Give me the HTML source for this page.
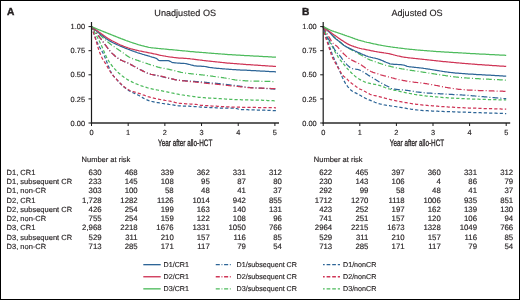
<!DOCTYPE html>
<html><head><meta charset="utf-8"><style>
html,body{margin:0;padding:0;background:#fff;}
svg{display:block;will-change:transform;}
text{font-family:"Liberation Sans",sans-serif;fill:#231f20;text-rendering:geometricPrecision;stroke:#231f20;stroke-width:0.15px;}
.pl{font-size:10.2px;font-weight:bold;stroke:#231f20;stroke-width:0.4px;}
.tt{font-size:9.1px;}
.tk{font-size:7.4px;}
.xl{font-size:9.3px;stroke:#231f20;stroke-width:0.3px;}
.tb{font-size:7.5px;}
.tn{font-size:7.8px;}
.lg{font-size:7.15px;}
</style></head><body>
<svg width="520" height="300" viewBox="0 0 520 300">
<rect x="0.5" y="0.5" width="519" height="299" fill="#fff" stroke="#000" stroke-width="1"/>
<text x="7.0" y="15" class="pl">A</text>
<text x="302.0" y="15" class="pl">B</text>
<text x="185.2" y="16" text-anchor="middle" class="tt">Unadjusted OS</text>
<text x="417" y="16" text-anchor="middle" class="tt">Adjusted OS</text>
<path d="M91.5,26.6 L92.4,29.2 L93.3,32.0 L94.3,34.7 L95.2,37.3 L96.1,39.8 L97.0,42.0 L98.0,44.1 L99.0,46.0 L100.0,47.8 L101.0,49.5 L102.0,51.2 L103.0,53.0 L104.0,55.0 L105.0,57.4 L106.0,59.9 L107.0,62.6 L108.0,65.1 L109.2,67.9 L110.3,70.8 L111.5,73.1 L112.6,74.7 L113.6,76.1 L114.7,77.3 L115.7,78.5 L116.8,79.6 L117.8,80.8 L118.9,81.9 L119.9,83.0 L120.9,84.0 L121.9,85.1 L122.9,86.1 L124.0,87.0 L125.0,87.8 L126.0,88.6 L127.0,89.3 L128.0,90.0 L129.0,90.6 L130.0,91.2 L131.0,91.7 L132.0,92.2 L133.0,92.7 L134.0,93.2 L135.0,93.6 L136.0,94.1 L136.9,94.5 L137.9,95.0 L138.9,95.5 L139.9,96.0 L140.9,96.6 L142.0,97.2 L143.0,97.9 L144.0,98.5 L145.1,99.0 L146.0,99.5 L147.0,99.9 L148.0,100.3 L149.0,100.7 L150.0,101.0 L150.9,101.3 L151.8,101.5 L152.8,101.7 L153.7,101.9 L154.6,102.1 L155.5,102.3 L156.4,102.4 L157.3,102.6 L158.3,102.7 L159.2,102.9 L160.1,103.0 L161.1,103.2 L162.1,103.4 L163.1,103.5 L164.1,103.7 L165.0,103.8 L166.0,103.9 L167.0,104.1 L168.0,104.2 L169.0,104.4 L170.0,104.5 L171.0,104.6 L172.0,104.8 L173.0,104.9 L174.0,105.1 L174.9,105.3 L175.9,105.4 L176.9,105.5 L177.9,105.7 L178.9,105.8 L179.9,105.8 L180.8,105.9 L181.8,106.0 L182.7,106.0 L183.7,106.0 L184.6,106.1 L185.5,106.1 L186.5,106.2 L187.4,106.2 L188.4,106.2 L189.3,106.2 L190.2,106.3 L191.2,106.3 L192.1,106.4 L193.1,106.4 L194.0,106.5 L194.9,106.5 L195.9,106.6 L196.8,106.7 L197.8,106.8 L198.8,106.9 L199.7,107.0 L200.6,107.1 L201.6,107.1 L202.5,107.2 L203.4,107.2 L204.4,107.2 L205.3,107.3 L206.2,107.3 L207.2,107.4 L208.1,107.4 L209.0,107.4 L210.0,107.5 L211.0,107.5 L212.0,107.6 L212.9,107.6 L213.9,107.7 L214.9,107.7 L215.9,107.8 L216.9,107.9 L217.9,107.9 L218.9,107.9 L219.9,108.0 L220.8,108.0 L221.7,108.0 L222.7,108.0 L223.6,108.0 L224.5,108.0 L225.5,108.0 L226.4,108.1 L227.3,108.1 L228.3,108.1 L229.2,108.1 L230.1,108.1 L231.1,108.1 L232.0,108.2 L233.0,108.2 L234.0,108.3 L235.0,108.4 L236.0,108.5 L237.0,108.7 L238.0,109.0 L239.0,109.3 L240.1,109.4 L241.0,109.5 L241.9,109.5 L242.9,109.6 L243.8,109.6 L244.8,109.6 L245.7,109.7 L246.7,109.7 L247.6,109.7 L248.6,109.8 L249.5,109.8 L250.5,109.8 L251.4,109.8 L252.4,109.8 L253.3,109.9 L254.2,109.9 L255.2,109.9 L256.1,109.9 L257.1,110.0 L258.0,110.0 L259.0,110.0 L259.9,110.1 L260.9,110.1 L261.8,110.1 L262.8,110.2 L263.7,110.2 L264.6,110.2 L265.6,110.3 L266.5,110.3 L267.5,110.3 L268.4,110.4 L269.4,110.4 L270.3,110.4 L271.3,110.5 L272.2,110.5 L273.2,110.6 L274.1,110.6 L275.1,110.6 L276.0,110.7" fill="none" stroke="#2d6597" stroke-width="1.25" stroke-dasharray="3.2 2.1"/>
<path d="M91.5,26.6 L92.6,29.9 L93.7,33.3 L94.8,36.6 L95.9,40.1 L96.9,43.5 L97.9,47.0 L98.8,50.1 L99.9,53.1 L101.0,55.7 L102.1,58.0 L103.2,60.0 L104.3,61.7 L105.4,63.3 L106.5,65.1 L107.6,67.1 L108.7,69.2 L109.8,71.0 L110.8,72.5 L111.8,73.8 L112.8,75.1 L113.8,76.3 L114.8,77.4 L115.8,78.5 L116.8,79.6 L117.8,80.7 L118.9,81.8 L119.9,82.9 L120.9,83.9 L121.9,84.9 L122.9,85.9 L124.0,86.7 L125.0,87.5 L126.0,88.2 L127.0,88.9 L128.0,89.5 L129.0,90.0 L130.0,90.5 L131.0,90.9 L132.0,91.3 L133.0,91.6 L134.0,91.9 L135.0,92.2 L136.0,92.5 L136.9,92.8 L137.9,93.1 L138.9,93.4 L139.9,93.7 L140.9,94.0 L141.9,94.4 L142.9,94.8 L144.0,95.1 L145.0,95.5 L146.0,95.9 L147.0,96.2 L148.0,96.6 L149.0,96.9 L150.0,97.2 L150.9,97.4 L151.8,97.7 L152.8,97.9 L153.7,98.1 L154.6,98.3 L155.5,98.5 L156.4,98.7 L157.3,98.9 L158.3,99.1 L159.2,99.3 L160.1,99.5 L161.1,99.7 L162.1,99.8 L163.1,100.0 L164.1,100.2 L165.0,100.4 L166.0,100.5 L167.0,100.7 L168.0,100.9 L169.0,101.0 L170.0,101.2 L171.0,101.4 L172.0,101.6 L173.0,101.9 L174.0,102.1 L174.9,102.4 L175.9,102.6 L176.9,102.8 L177.9,103.0 L178.9,103.2 L179.9,103.3 L180.9,103.4 L181.9,103.5 L182.9,103.6 L183.9,103.7 L184.9,103.7 L185.8,103.8 L186.8,103.8 L187.8,103.9 L188.8,103.9 L189.8,104.0 L190.8,104.1 L191.9,104.1 L192.9,104.2 L194.0,104.2 L195.0,104.3 L196.0,104.4 L197.0,104.5 L197.9,104.8 L198.8,105.0 L199.7,105.2 L200.6,105.3 L201.6,105.3 L202.5,105.4 L203.4,105.5 L204.4,105.5 L205.3,105.6 L206.2,105.6 L207.2,105.7 L208.1,105.7 L209.0,105.8 L210.0,105.8 L210.9,105.9 L211.9,106.0 L212.8,106.0 L213.8,106.1 L214.7,106.1 L215.7,106.2 L216.6,106.2 L217.5,106.3 L218.5,106.3 L219.4,106.4 L220.4,106.4 L221.3,106.5 L222.3,106.5 L223.2,106.6 L224.2,106.6 L225.1,106.7 L226.1,106.7 L227.0,106.8 L227.9,106.8 L228.9,106.8 L229.9,106.9 L230.9,106.9 L231.9,107.0 L232.9,107.0 L233.9,107.1 L234.9,107.1 L235.9,107.1 L236.9,107.2 L237.9,107.2 L238.8,107.2 L239.8,107.2 L240.7,107.2 L241.7,107.3 L242.7,107.3 L243.6,107.3 L244.6,107.3 L245.5,107.3 L246.5,107.3 L247.5,107.3 L248.4,107.4 L249.4,107.4 L250.3,107.4 L251.3,107.4 L252.3,107.4 L253.2,107.4 L254.2,107.4 L255.1,107.4 L256.1,107.5 L257.1,107.5 L258.0,107.5 L259.0,107.5 L259.9,107.5 L260.9,107.5 L261.8,107.5 L262.8,107.6 L263.7,107.6 L264.6,107.6 L265.6,107.6 L266.5,107.6 L267.5,107.6 L268.4,107.6 L269.4,107.7 L270.3,107.7 L271.3,107.7 L272.2,107.7 L273.2,107.7 L274.1,107.7 L275.1,107.8 L276.0,107.8" fill="none" stroke="#cf3556" stroke-width="1.25" stroke-dasharray="3.2 2.1"/>
<path d="M91.5,26.6 L92.4,28.3 L93.3,29.9 L94.3,31.6 L95.2,33.2 L96.1,34.9 L97.0,36.6 L97.9,38.3 L98.8,40.1 L99.9,42.3 L101.0,44.6 L102.1,47.0 L103.1,49.2 L104.0,51.6 L105.0,53.9 L106.0,56.1 L106.9,58.0 L107.9,59.8 L109.0,61.5 L110.0,63.0 L111.1,64.5 L112.1,65.8 L113.1,67.1 L114.1,68.2 L115.1,69.3 L116.1,70.4 L117.1,71.4 L118.0,72.3 L119.0,73.2 L120.0,74.0 L121.0,74.9 L122.0,75.7 L123.0,76.4 L124.0,77.2 L125.0,77.9 L126.0,78.6 L127.0,79.3 L128.0,79.9 L129.0,80.4 L130.0,81.0 L131.0,81.4 L131.9,81.9 L132.9,82.4 L133.8,82.8 L134.8,83.2 L135.7,83.6 L136.7,84.0 L137.6,84.4 L138.6,84.8 L139.5,85.2 L140.5,85.5 L141.4,85.9 L142.4,86.2 L143.3,86.5 L144.3,86.8 L145.2,87.1 L146.2,87.4 L147.1,87.7 L148.1,88.0 L149.1,88.2 L150.0,88.5 L150.9,88.7 L151.8,88.9 L152.8,89.1 L153.7,89.3 L154.6,89.5 L155.5,89.7 L156.4,89.8 L157.3,90.0 L158.3,90.2 L159.2,90.3 L160.1,90.5 L161.1,90.7 L162.1,90.9 L163.1,91.1 L164.1,91.3 L165.0,91.5 L166.0,91.7 L167.0,91.9 L168.0,92.1 L169.0,92.3 L170.0,92.5 L171.0,92.7 L172.0,93.0 L173.0,93.2 L174.0,93.4 L174.9,93.6 L175.9,93.8 L176.9,94.0 L177.9,94.2 L178.9,94.4 L179.9,94.6 L180.9,94.7 L181.9,94.9 L182.9,95.0 L183.9,95.2 L184.9,95.3 L185.8,95.5 L186.8,95.6 L187.8,95.7 L188.8,95.9 L189.8,96.0 L190.8,96.2 L191.8,96.3 L192.8,96.4 L193.8,96.6 L194.8,96.7 L195.7,96.9 L196.7,97.0 L197.7,97.1 L198.7,97.3 L199.7,97.4 L200.6,97.4 L201.5,97.5 L202.5,97.6 L203.4,97.6 L204.3,97.7 L205.2,97.8 L206.1,97.8 L207.0,97.9 L208.0,97.9 L208.9,98.0 L209.8,98.0 L210.7,98.1 L211.6,98.1 L212.5,98.2 L213.5,98.2 L214.4,98.3 L215.3,98.3 L216.2,98.4 L217.1,98.5 L218.0,98.5 L219.0,98.6 L220.0,98.6 L221.0,98.7 L222.0,98.8 L223.0,98.9 L224.0,98.9 L225.0,99.0 L226.0,99.1 L227.0,99.1 L227.9,99.2 L228.9,99.2 L229.9,99.3 L230.9,99.4 L231.9,99.4 L232.9,99.5 L233.9,99.5 L234.9,99.6 L235.9,99.6 L236.9,99.6 L237.9,99.7 L238.8,99.7 L239.7,99.7 L240.6,99.7 L241.5,99.8 L242.4,99.8 L243.4,99.8 L244.3,99.8 L245.2,99.8 L246.1,99.9 L247.0,99.9 L247.9,99.9 L248.9,99.9 L249.8,99.9 L250.7,99.9 L251.6,100.0 L252.5,100.0 L253.4,100.0 L254.4,100.0 L255.3,100.0 L256.2,100.1 L257.1,100.1 L258.1,100.1 L259.0,100.1 L260.0,100.2 L260.9,100.2 L261.9,100.2 L262.8,100.3 L263.7,100.3 L264.7,100.4 L265.6,100.4 L266.6,100.4 L267.5,100.5 L268.5,100.5 L269.4,100.6 L270.3,100.6 L271.3,100.6 L272.2,100.7 L273.2,100.7 L274.1,100.8 L275.1,100.8 L276.0,100.8" fill="none" stroke="#4dbb5c" stroke-width="1.25" stroke-dasharray="3.2 2.1"/>
<path d="M91.5,26.6 L92.4,27.8 L93.3,29.0 L94.3,30.2 L95.2,31.4 L96.1,32.6 L97.0,33.8 L97.9,35.0 L98.8,36.2 L99.8,37.6 L100.9,38.9 L101.9,40.3 L102.9,41.7 L103.9,43.0 L104.9,44.4 L105.9,45.7 L106.9,47.0 L107.9,48.4 L108.9,49.7 L109.9,50.9 L110.9,52.0 L111.9,53.1 L113.0,54.1 L114.0,55.0 L115.0,56.0 L116.0,56.8 L117.0,57.6 L118.0,58.3 L119.0,59.0 L120.0,59.6 L121.0,60.1 L122.0,60.5 L123.0,61.0 L124.0,61.4 L125.0,61.8 L125.9,62.2 L126.9,62.6 L127.9,63.0 L128.9,63.5 L129.9,64.0 L130.9,64.6 L131.9,65.1 L132.9,65.7 L134.0,66.3 L135.0,66.8 L136.0,67.4 L137.0,68.0 L138.0,68.5 L139.0,69.0 L139.9,69.5 L140.8,69.9 L141.8,70.4 L142.7,70.9 L143.6,71.4 L144.5,71.8 L145.4,72.3 L146.3,72.7 L147.3,73.1 L148.2,73.4 L149.1,73.7 L150.0,74.0 L150.9,74.3 L151.8,74.5 L152.8,74.7 L153.7,74.9 L154.6,75.1 L155.5,75.2 L156.4,75.4 L157.3,75.6 L158.3,75.8 L159.2,75.9 L160.1,76.1 L161.1,76.4 L162.1,76.6 L163.1,76.9 L164.1,77.2 L165.0,77.4 L166.0,77.7 L167.0,78.0 L168.0,78.2 L169.0,78.4 L170.0,78.7 L171.0,78.9 L172.0,79.0 L173.0,79.2 L174.0,79.4 L174.9,79.6 L175.9,79.8 L176.9,79.9 L177.9,80.1 L178.9,80.2 L179.9,80.3 L180.9,80.4 L181.9,80.5 L182.9,80.6 L183.9,80.6 L184.9,80.7 L185.8,80.8 L186.8,80.9 L187.8,80.9 L188.8,81.0 L189.8,81.1 L190.8,81.1 L191.8,81.2 L192.8,81.3 L193.8,81.3 L194.8,81.4 L195.7,81.5 L196.7,81.5 L197.7,81.6 L198.7,81.7 L199.7,81.7 L200.6,81.8 L201.6,81.9 L202.5,82.0 L203.5,82.1 L204.4,82.2 L205.3,82.3 L206.3,82.4 L207.2,82.5 L208.1,82.6 L209.1,82.7 L210.1,82.8 L211.1,82.9 L212.1,83.0 L213.1,83.0 L214.1,83.1 L215.1,83.2 L216.1,83.3 L217.1,83.4 L218.0,83.5 L219.0,83.6 L220.0,83.7 L221.0,83.8 L222.0,83.9 L223.0,84.0 L224.0,84.1 L225.0,84.3 L226.0,84.4 L227.0,84.5 L227.9,84.6 L228.9,84.8 L229.9,84.9 L230.9,85.0 L231.9,85.1 L232.9,85.2 L233.9,85.4 L234.9,85.5 L235.9,85.6 L236.9,85.8 L237.9,85.9 L238.8,86.0 L239.7,86.1 L240.6,86.3 L241.6,86.4 L242.5,86.6 L243.4,86.7 L244.4,86.8 L245.3,87.0 L246.2,87.1 L247.2,87.2 L248.1,87.3 L249.0,87.4 L250.0,87.5 L250.9,87.6 L251.9,87.7 L252.8,87.7 L253.8,87.8 L254.7,87.9 L255.7,87.9 L256.6,88.0 L257.6,88.0 L258.5,88.1 L259.5,88.1 L260.4,88.2 L261.3,88.2 L262.3,88.3 L263.2,88.3 L264.2,88.4 L265.1,88.4 L266.1,88.5 L267.1,88.5 L268.1,88.6 L269.1,88.7 L270.1,88.7 L271.0,88.8 L272.0,88.8 L273.0,88.9 L274.0,89.0 L275.0,89.0 L276.0,89.1" fill="none" stroke="#2d6597" stroke-width="1.25" stroke-dasharray="5.8 2.1 1 2.1"/>
<path d="M91.5,26.6 L92.4,27.8 L93.3,29.0 L94.3,30.2 L95.2,31.4 L96.1,32.6 L97.0,33.8 L97.9,35.0 L98.8,36.2 L99.8,37.6 L100.9,38.9 L101.9,40.3 L102.9,41.7 L103.9,43.0 L104.9,44.4 L105.9,45.7 L106.9,47.0 L107.9,48.4 L108.9,49.7 L109.9,50.9 L110.9,52.0 L111.9,53.1 L113.0,54.1 L114.0,55.0 L115.0,56.0 L116.0,56.8 L117.0,57.6 L118.0,58.3 L119.0,59.0 L120.0,59.6 L121.0,60.1 L122.0,60.5 L123.0,61.0 L124.0,61.4 L125.0,61.8 L125.9,62.2 L126.9,62.6 L127.9,63.0 L128.9,63.5 L129.9,64.0 L130.9,64.6 L131.9,65.1 L132.9,65.7 L134.0,66.3 L135.0,66.8 L136.0,67.4 L137.0,68.0 L138.0,68.5 L139.0,69.0 L139.9,69.5 L140.8,70.0 L141.8,70.4 L142.7,70.9 L143.6,71.4 L144.5,71.8 L145.4,72.3 L146.3,72.7 L147.3,73.1 L148.2,73.4 L149.1,73.8 L150.0,74.0 L150.9,74.3 L151.8,74.5 L152.8,74.7 L153.7,74.8 L154.6,75.0 L155.5,75.1 L156.4,75.3 L157.3,75.4 L158.3,75.6 L159.2,75.8 L160.1,76.0 L161.1,76.2 L162.1,76.4 L163.1,76.7 L164.1,76.9 L165.0,77.2 L166.0,77.5 L167.0,77.7 L168.0,78.0 L169.0,78.2 L170.0,78.5 L171.0,78.7 L172.0,78.9 L173.0,79.1 L174.0,79.4 L174.9,79.6 L175.9,79.8 L176.9,80.0 L177.9,80.2 L178.9,80.3 L179.9,80.5 L180.9,80.6 L181.9,80.7 L182.9,80.8 L183.9,80.9 L184.9,81.0 L185.8,81.1 L186.8,81.2 L187.8,81.3 L188.8,81.4 L189.8,81.5 L190.8,81.6 L191.8,81.7 L192.8,81.8 L193.8,81.9 L194.8,82.0 L195.7,82.1 L196.7,82.2 L197.7,82.3 L198.7,82.4 L199.7,82.5 L200.6,82.6 L201.6,82.7 L202.5,82.8 L203.5,82.9 L204.4,83.1 L205.3,83.2 L206.3,83.3 L207.2,83.4 L208.1,83.5 L209.1,83.6 L210.1,83.7 L211.1,83.8 L212.1,83.9 L213.1,84.0 L214.1,84.1 L215.1,84.1 L216.1,84.2 L217.1,84.3 L218.0,84.4 L219.0,84.5 L220.0,84.6 L221.0,84.8 L222.0,84.9 L223.0,85.0 L224.0,85.1 L225.0,85.2 L226.0,85.3 L227.0,85.4 L227.9,85.5 L228.9,85.6 L229.9,85.7 L230.9,85.8 L231.9,85.9 L232.9,86.0 L233.9,86.1 L234.9,86.2 L235.9,86.3 L236.9,86.4 L237.9,86.5 L238.8,86.6 L239.7,86.7 L240.6,86.8 L241.6,86.9 L242.5,87.0 L243.4,87.1 L244.4,87.2 L245.3,87.3 L246.2,87.4 L247.2,87.5 L248.1,87.6 L249.0,87.7 L250.0,87.7 L250.9,87.8 L251.9,87.8 L252.8,87.9 L253.8,87.9 L254.7,87.9 L255.7,88.0 L256.6,88.0 L257.6,88.0 L258.5,88.1 L259.5,88.1 L260.4,88.1 L261.3,88.1 L262.3,88.2 L263.2,88.2 L264.2,88.2 L265.1,88.3 L266.1,88.3 L267.1,88.3 L268.1,88.4 L269.1,88.4 L270.1,88.4 L271.0,88.5 L272.0,88.5 L273.0,88.6 L274.0,88.6 L275.0,88.6 L276.0,88.7" fill="none" stroke="#cf3556" stroke-width="1.25" stroke-dasharray="5.8 2.1 1 2.1"/>
<path d="M91.5,26.6 L92.4,27.5 L93.3,28.4 L94.3,29.3 L95.2,30.3 L96.1,31.2 L97.0,32.1 L97.9,33.0 L98.8,33.8 L99.8,34.7 L100.7,35.6 L101.6,36.5 L102.6,37.4 L103.5,38.2 L104.4,39.1 L105.4,39.9 L106.3,40.7 L107.2,41.6 L108.2,42.3 L109.1,43.1 L110.0,43.8 L110.9,44.5 L111.9,45.2 L112.8,45.8 L113.7,46.5 L114.6,47.1 L115.5,47.7 L116.4,48.3 L117.4,49.0 L118.3,49.6 L119.2,50.2 L120.1,50.8 L121.0,51.4 L121.9,52.0 L123.0,52.8 L124.0,53.5 L125.0,54.3 L126.0,55.0 L127.0,55.7 L128.0,56.4 L129.0,57.0 L130.0,57.5 L131.0,58.0 L132.0,58.4 L133.0,58.8 L134.0,59.1 L135.0,59.5 L136.0,59.8 L136.9,60.1 L137.9,60.4 L138.9,60.8 L139.9,61.1 L140.9,61.4 L141.8,61.8 L142.7,62.1 L143.7,62.4 L144.6,62.7 L145.5,63.0 L146.5,63.4 L147.4,63.7 L148.3,64.0 L149.3,64.3 L150.2,64.6 L151.2,64.9 L152.2,65.2 L153.2,65.5 L154.1,65.9 L155.1,66.2 L156.1,66.5 L157.1,66.8 L158.1,67.1 L159.1,67.3 L160.1,67.6 L161.1,67.8 L162.1,68.0 L163.1,68.2 L164.1,68.4 L165.0,68.6 L166.0,68.8 L167.0,69.0 L168.0,69.2 L169.0,69.4 L170.0,69.6 L170.9,69.8 L171.9,70.0 L172.8,70.3 L173.7,70.5 L174.6,70.7 L175.6,71.0 L176.5,71.2 L177.4,71.5 L178.4,71.7 L179.3,71.9 L180.2,72.1 L181.1,72.4 L182.1,72.5 L183.0,72.7 L183.9,72.9 L184.9,73.0 L185.8,73.1 L186.8,73.3 L187.7,73.4 L188.7,73.5 L189.7,73.6 L190.6,73.7 L191.6,73.8 L192.5,73.9 L193.5,74.0 L194.4,74.1 L195.4,74.2 L196.3,74.3 L197.3,74.4 L198.2,74.5 L199.2,74.6 L200.1,74.7 L201.1,74.8 L202.1,74.9 L203.0,75.0 L203.9,75.1 L204.9,75.2 L205.8,75.3 L206.8,75.5 L207.7,75.6 L208.6,75.7 L209.6,75.8 L210.5,76.0 L211.5,76.1 L212.4,76.2 L213.3,76.4 L214.3,76.5 L215.2,76.6 L216.2,76.8 L217.1,76.9 L218.0,77.0 L219.0,77.2 L220.0,77.3 L221.0,77.4 L222.0,77.6 L223.0,77.7 L224.0,77.9 L225.0,78.0 L226.0,78.2 L227.0,78.3 L227.9,78.5 L228.9,78.6 L229.9,78.8 L230.9,79.0 L231.9,79.3 L232.9,79.5 L233.9,79.7 L234.9,79.9 L235.9,80.0 L236.9,80.2 L237.9,80.3 L238.8,80.4 L239.7,80.4 L240.6,80.5 L241.6,80.6 L242.5,80.6 L243.4,80.7 L244.4,80.7 L245.3,80.8 L246.2,80.8 L247.2,80.9 L248.1,80.9 L249.0,80.9 L250.0,81.0 L250.9,81.0 L251.8,81.0 L252.7,81.1 L253.7,81.1 L254.6,81.1 L255.5,81.1 L256.4,81.2 L257.3,81.2 L258.3,81.2 L259.2,81.2 L260.1,81.2 L261.0,81.3 L262.0,81.3 L262.9,81.3 L263.8,81.3 L264.7,81.3 L265.7,81.4 L266.6,81.4 L267.5,81.4 L268.4,81.4 L269.4,81.4 L270.3,81.4 L271.2,81.5 L272.1,81.5 L273.1,81.5 L274.0,81.5 L274.9,81.5" fill="none" stroke="#4dbb5c" stroke-width="1.25" stroke-dasharray="5.8 2.1 1 2.1"/>
<path d="M91.5,26.6 L92.4,27.4 L93.3,28.2 L94.3,29.0 L95.2,29.8 L96.1,30.6 L97.0,31.4 L97.9,32.1 L98.8,32.9 L99.8,33.6 L100.7,34.4 L101.6,35.1 L102.5,35.8 L103.5,36.6 L104.4,37.3 L105.3,38.0 L106.2,38.7 L107.1,39.3 L108.1,39.9 L109.0,40.5 L110.0,41.1 L111.0,41.6 L112.0,42.2 L113.0,42.7 L114.0,43.2 L115.0,43.7 L116.0,44.1 L117.0,44.6 L118.0,45.0 L119.0,45.5 L120.0,45.9 L120.9,46.3 L121.9,46.7 L122.8,47.1 L123.8,47.5 L124.7,47.9 L125.7,48.3 L126.6,48.6 L127.6,49.0 L128.5,49.4 L129.5,49.7 L130.4,50.1 L131.4,50.4 L132.3,50.8 L133.3,51.1 L134.2,51.5 L135.2,51.8 L136.1,52.1 L137.1,52.5 L138.0,52.8 L139.0,53.1 L139.9,53.4 L140.9,53.7 L141.8,54.0 L142.7,54.3 L143.7,54.5 L144.6,54.8 L145.5,55.1 L146.5,55.3 L147.4,55.6 L148.3,55.9 L149.3,56.2 L150.2,56.5 L151.2,56.8 L152.2,57.1 L153.2,57.3 L154.2,57.6 L155.2,58.0 L156.2,58.4 L157.2,58.9 L157.8,59.5 L158.4,60.2 L159.0,60.5 L160.0,60.6 L161.0,60.6 L162.0,60.6 L163.1,60.6 L164.1,60.6 L165.1,60.7 L166.1,60.7 L167.1,60.7 L168.2,60.7 L169.1,60.9 L170.1,61.3 L171.0,61.8 L172.0,62.3 L172.9,62.6 L173.9,62.7 L174.9,62.8 L175.9,62.9 L176.9,63.0 L177.9,63.1 L178.9,63.2 L179.9,63.2 L180.9,63.3 L181.9,63.3 L182.9,63.4 L183.9,63.4 L184.9,63.5 L185.9,63.7 L186.9,63.9 L187.8,64.1 L188.8,64.3 L189.8,64.5 L190.8,64.8 L191.9,65.1 L192.9,65.4 L193.9,65.7 L194.9,65.8 L196.0,65.9 L197.0,66.0 L198.0,66.0 L199.0,66.1 L200.1,66.1 L201.0,66.2 L202.0,66.3 L202.9,66.3 L203.9,66.4 L204.8,66.5 L205.9,66.7 L206.9,66.9 L207.9,67.1 L208.9,67.3 L210.0,67.5 L211.0,67.6 L212.0,67.7 L212.9,67.8 L213.9,68.0 L214.9,68.1 L215.9,68.2 L216.9,68.3 L217.9,68.4 L218.9,68.4 L219.9,68.5 L220.8,68.6 L221.7,68.7 L222.7,68.8 L223.6,68.9 L224.5,68.9 L225.5,69.0 L226.4,69.1 L227.3,69.2 L228.3,69.2 L229.2,69.3 L230.1,69.4 L231.1,69.4 L232.0,69.5 L232.9,69.6 L233.9,69.6 L234.9,69.7 L235.8,69.7 L236.8,69.8 L237.7,69.8 L238.7,69.9 L239.6,69.9 L240.6,70.0 L241.6,70.0 L242.5,70.0 L243.5,70.1 L244.4,70.1 L245.4,70.2 L246.4,70.2 L247.3,70.3 L248.3,70.3 L249.2,70.4 L250.1,70.4 L251.1,70.5 L252.0,70.5 L252.9,70.6 L253.8,70.6 L254.8,70.7 L255.7,70.7 L256.6,70.8 L257.5,70.8 L258.5,70.9 L259.4,70.9 L260.3,71.0 L261.2,71.0 L262.2,71.1 L263.1,71.1 L264.0,71.2 L264.9,71.2 L265.8,71.3 L266.8,71.3 L267.7,71.4 L268.6,71.4 L269.5,71.5 L270.5,71.5 L271.4,71.6 L272.3,71.6 L273.2,71.7 L274.2,71.7 L275.1,71.8 L276.0,71.8" fill="none" stroke="#2d6597" stroke-width="1.25"/>
<path d="M91.5,26.6 L92.4,27.3 L93.3,27.9 L94.3,28.6 L95.2,29.3 L96.1,29.9 L97.0,30.6 L97.9,31.2 L98.8,31.9 L99.8,32.6 L100.7,33.2 L101.6,33.9 L102.5,34.6 L103.5,35.3 L104.4,35.9 L105.3,36.6 L106.2,37.2 L107.1,37.9 L108.1,38.5 L109.0,39.0 L110.0,39.6 L111.0,40.2 L112.0,40.8 L113.0,41.3 L114.0,41.8 L115.0,42.3 L116.0,42.8 L117.0,43.3 L118.0,43.8 L119.0,44.2 L120.0,44.7 L120.9,45.1 L121.9,45.5 L122.8,45.9 L123.8,46.3 L124.7,46.6 L125.7,47.0 L126.6,47.3 L127.6,47.7 L128.5,48.0 L129.5,48.3 L130.4,48.6 L131.4,48.9 L132.4,49.1 L133.3,49.4 L134.3,49.6 L135.2,49.9 L136.2,50.1 L137.2,50.3 L138.1,50.5 L139.1,50.8 L140.1,51.0 L141.0,51.2 L142.0,51.4 L143.0,51.6 L144.0,51.8 L145.0,52.0 L146.0,52.2 L147.0,52.4 L148.0,52.6 L149.0,52.8 L150.0,53.0 L151.0,53.2 L151.9,53.4 L152.9,53.6 L153.8,53.8 L154.8,54.0 L155.7,54.2 L156.7,54.4 L157.6,54.6 L158.6,54.8 L159.5,55.1 L160.5,55.3 L161.4,55.5 L162.4,55.7 L163.3,55.8 L164.3,56.0 L165.2,56.2 L166.2,56.4 L167.1,56.5 L168.1,56.7 L169.0,56.8 L170.0,57.0 L171.0,57.1 L172.0,57.2 L173.0,57.3 L174.0,57.5 L174.9,57.6 L175.9,57.7 L176.9,57.8 L177.9,57.9 L178.9,58.0 L179.9,58.0 L180.9,58.1 L182.0,58.1 L183.0,58.2 L184.0,58.3 L185.0,58.3 L186.0,58.4 L186.9,58.5 L187.8,58.6 L188.7,58.6 L189.6,58.7 L190.5,58.9 L191.5,59.0 L192.4,59.1 L193.3,59.2 L194.2,59.3 L195.1,59.4 L196.0,59.6 L197.0,59.7 L197.9,59.8 L198.8,59.9 L199.7,60.0 L200.6,60.1 L201.5,60.2 L202.5,60.3 L203.4,60.5 L204.4,60.6 L205.3,60.7 L206.3,60.8 L207.2,60.9 L208.1,61.0 L209.1,61.1 L210.0,61.2 L211.0,61.3 L211.9,61.4 L212.9,61.5 L213.8,61.6 L214.7,61.7 L215.7,61.8 L216.6,61.9 L217.6,62.0 L218.5,62.1 L219.5,62.2 L220.4,62.3 L221.3,62.4 L222.3,62.5 L223.2,62.6 L224.2,62.7 L225.1,62.8 L226.1,62.9 L227.0,63.0 L227.9,63.0 L228.9,63.1 L229.8,63.2 L230.7,63.3 L231.6,63.4 L232.6,63.4 L233.5,63.5 L234.4,63.6 L235.3,63.7 L236.3,63.7 L237.2,63.8 L238.1,63.9 L239.0,63.9 L240.0,64.0 L240.9,64.1 L241.8,64.1 L242.7,64.2 L243.7,64.3 L244.6,64.3 L245.5,64.4 L246.4,64.5 L247.4,64.5 L248.3,64.6 L249.2,64.7 L250.1,64.7 L251.1,64.8 L252.0,64.9 L252.9,64.9 L253.8,65.0 L254.7,65.1 L255.7,65.1 L256.6,65.2 L257.5,65.2 L258.4,65.3 L259.4,65.4 L260.3,65.4 L261.2,65.5 L262.1,65.6 L263.1,65.6 L264.0,65.7 L264.9,65.7 L265.8,65.8 L266.8,65.9 L267.7,65.9 L268.6,66.0 L269.5,66.1 L270.5,66.1 L271.4,66.2 L272.3,66.2 L273.2,66.3 L274.2,66.4 L275.1,66.4 L276.0,66.5" fill="none" stroke="#cf3556" stroke-width="1.25"/>
<path d="M91.5,26.6 L92.4,27.0 L93.4,27.4 L94.3,27.8 L95.2,28.2 L96.2,28.6 L97.1,29.0 L98.0,29.4 L99.0,29.8 L100.0,30.2 L101.0,30.6 L102.0,31.0 L103.0,31.4 L104.0,31.8 L105.0,32.2 L106.0,32.6 L107.0,33.0 L108.0,33.4 L109.0,33.8 L110.0,34.2 L111.0,34.6 L112.0,35.0 L113.0,35.4 L114.0,35.8 L115.0,36.2 L116.0,36.6 L117.0,37.0 L118.0,37.4 L119.0,37.8 L120.0,38.2 L121.0,38.6 L122.0,38.9 L123.0,39.3 L124.0,39.7 L125.0,40.1 L126.0,40.5 L127.0,40.8 L128.0,41.2 L129.0,41.5 L129.9,41.9 L130.8,42.2 L131.8,42.5 L132.7,42.8 L133.6,43.1 L134.5,43.4 L135.5,43.7 L136.4,44.0 L137.3,44.3 L138.2,44.6 L139.2,44.9 L140.1,45.1 L141.0,45.4 L142.0,45.7 L143.0,45.9 L144.0,46.2 L145.0,46.5 L146.0,46.7 L147.0,46.9 L148.0,47.2 L149.0,47.4 L150.0,47.5 L151.0,47.7 L151.9,47.8 L152.9,47.9 L153.8,48.0 L154.8,48.1 L155.7,48.2 L156.7,48.3 L157.6,48.4 L158.6,48.5 L159.5,48.6 L160.5,48.7 L161.4,48.8 L162.4,48.9 L163.3,48.9 L164.3,49.0 L165.2,49.1 L166.2,49.2 L167.1,49.3 L168.1,49.4 L169.0,49.5 L170.0,49.5 L171.0,49.6 L172.0,49.7 L173.0,49.8 L174.0,49.9 L174.9,50.0 L175.9,50.1 L176.9,50.2 L177.9,50.3 L178.9,50.4 L179.9,50.5 L180.8,50.6 L181.8,50.7 L182.7,50.8 L183.7,50.9 L184.6,50.9 L185.5,51.0 L186.5,51.1 L187.4,51.2 L188.4,51.3 L189.3,51.4 L190.2,51.5 L191.2,51.5 L192.1,51.6 L193.1,51.7 L194.0,51.8 L195.0,51.9 L195.9,52.0 L196.8,52.0 L197.8,52.1 L198.7,52.2 L199.7,52.3 L200.6,52.4 L201.5,52.4 L202.5,52.5 L203.4,52.6 L204.4,52.7 L205.3,52.7 L206.3,52.8 L207.2,52.9 L208.1,53.0 L209.1,53.1 L210.0,53.1 L211.0,53.2 L211.9,53.3 L212.9,53.4 L213.8,53.4 L214.7,53.5 L215.7,53.6 L216.6,53.6 L217.6,53.7 L218.5,53.8 L219.5,53.9 L220.4,53.9 L221.3,54.0 L222.3,54.1 L223.2,54.1 L224.2,54.2 L225.1,54.3 L226.1,54.3 L227.0,54.4 L227.9,54.5 L228.9,54.5 L229.8,54.6 L230.7,54.6 L231.6,54.7 L232.6,54.8 L233.5,54.8 L234.4,54.9 L235.3,54.9 L236.3,55.0 L237.2,55.0 L238.1,55.1 L239.0,55.1 L240.0,55.2 L240.9,55.3 L241.8,55.3 L242.7,55.4 L243.7,55.4 L244.6,55.5 L245.5,55.5 L246.4,55.6 L247.4,55.6 L248.3,55.7 L249.2,55.7 L250.1,55.8 L251.1,55.8 L252.0,55.9 L252.9,55.9 L253.8,56.0 L254.7,56.0 L255.7,56.1 L256.6,56.1 L257.5,56.2 L258.4,56.2 L259.4,56.3 L260.3,56.3 L261.2,56.4 L262.1,56.4 L263.1,56.5 L264.0,56.5 L264.9,56.6 L265.8,56.6 L266.8,56.7 L267.7,56.7 L268.6,56.8 L269.5,56.8 L270.5,56.9 L271.4,56.9 L272.3,57.0 L273.2,57.0 L274.2,57.1 L275.1,57.1 L276.0,57.2" fill="none" stroke="#4dbb5c" stroke-width="1.25"/>
<path d="M323.2,26.6 L324.1,29.9 L325.1,33.1 L326.0,36.2 L326.8,38.6 L327.6,40.8 L328.3,43.0 L329.2,45.5 L330.0,48.0 L330.9,50.4 L331.6,52.5 L332.3,54.6 L333.1,56.5 L334.3,59.1 L335.5,61.5 L336.7,64.0 L337.8,66.4 L338.9,68.9 L339.9,71.5 L341.0,74.0 L341.6,75.6 L342.3,77.2 L343.0,78.7 L343.9,80.6 L344.9,82.4 L345.8,84.0 L346.8,85.4 L347.9,86.8 L348.9,88.0 L350.0,89.2 L351.1,90.2 L352.1,91.0 L353.1,91.6 L354.1,92.2 L355.0,92.7 L356.0,93.1 L357.0,93.6 L358.0,94.1 L359.0,94.6 L360.0,95.2 L361.0,95.8 L361.9,96.4 L362.9,97.0 L363.9,97.5 L364.9,98.0 L365.9,98.5 L366.9,99.0 L367.9,99.4 L368.9,99.8 L369.9,100.2 L370.9,100.6 L371.9,101.0 L372.9,101.4 L373.9,101.8 L374.9,102.3 L375.9,102.7 L376.9,103.1 L377.9,103.4 L378.9,103.7 L379.9,104.0 L380.9,104.2 L381.8,104.4 L382.8,104.6 L383.8,104.8 L384.7,105.0 L385.7,105.1 L386.6,105.3 L387.6,105.4 L388.5,105.6 L389.5,105.7 L390.4,105.9 L391.4,106.0 L392.4,106.1 L393.3,106.2 L394.3,106.4 L395.2,106.5 L396.2,106.7 L397.1,106.8 L398.1,107.0 L399.0,107.1 L399.9,107.3 L400.8,107.4 L401.7,107.6 L402.7,107.7 L403.6,107.9 L404.5,108.1 L405.4,108.2 L406.4,108.4 L407.3,108.6 L408.2,108.7 L409.1,108.9 L410.0,109.0 L411.0,109.2 L411.9,109.3 L412.8,109.4 L413.7,109.6 L414.7,109.7 L415.6,109.8 L416.5,109.9 L417.4,110.0 L418.3,110.1 L419.3,110.2 L420.2,110.3 L421.1,110.3 L422.0,110.4 L422.9,110.5 L423.9,110.5 L424.8,110.6 L425.7,110.6 L426.6,110.7 L427.5,110.7 L428.4,110.8 L429.3,110.8 L430.3,110.9 L431.2,110.9 L432.1,111.0 L433.0,111.0 L433.9,111.1 L434.8,111.1 L435.7,111.1 L436.7,111.2 L437.6,111.2 L438.5,111.3 L439.4,111.3 L440.3,111.3 L441.2,111.4 L442.1,111.4 L443.1,111.4 L444.0,111.5 L444.9,111.5 L445.8,111.5 L446.7,111.6 L447.6,111.6 L448.6,111.6 L449.5,111.7 L450.4,111.7 L451.3,111.7 L452.2,111.7 L453.1,111.8 L454.0,111.8 L455.0,111.8 L455.9,111.9 L456.8,111.9 L457.7,111.9 L458.6,112.0 L459.5,112.0 L460.4,112.0 L461.4,112.1 L462.3,112.1 L463.2,112.1 L464.1,112.2 L465.0,112.2 L465.9,112.2 L466.9,112.3 L467.8,112.3 L468.7,112.3 L469.6,112.4 L470.5,112.4 L471.4,112.4 L472.3,112.5 L473.3,112.5 L474.2,112.5 L475.1,112.5 L476.0,112.6 L476.9,112.6 L477.8,112.6 L478.8,112.7 L479.7,112.7 L480.6,112.7 L481.5,112.8 L482.4,112.8 L483.3,112.8 L484.2,112.8 L485.2,112.9 L486.1,112.9 L487.0,112.9 L487.9,113.0 L488.8,113.0 L489.7,113.0 L490.6,113.1 L491.6,113.1 L492.5,113.1 L493.4,113.1 L494.3,113.2 L495.2,113.2 L496.1,113.2 L497.0,113.3 L498.0,113.3 L498.9,113.3 L499.8,113.3 L500.7,113.4 L501.6,113.4 L502.5,113.4 L503.5,113.5 L504.4,113.5 L505.3,113.5 L506.2,113.6" fill="none" stroke="#2d6597" stroke-width="1.25" stroke-dasharray="3.2 2.1"/>
<path d="M323.2,26.6 L323.7,29.5 L324.3,32.4 L324.8,34.8 L325.6,37.5 L326.4,39.8 L327.2,42.0 L328.0,44.4 L328.8,46.8 L329.6,49.2 L330.4,51.7 L331.2,54.3 L332.0,56.5 L333.0,58.6 L333.9,60.3 L334.9,62.1 L335.9,63.9 L337.0,65.8 L338.0,67.6 L339.0,69.3 L340.0,71.0 L340.9,72.5 L341.7,73.8 L342.6,75.0 L343.7,76.2 L344.8,77.1 L345.9,78.1 L347.0,79.0 L348.0,80.1 L348.9,81.1 L349.9,82.0 L350.9,82.8 L351.9,83.6 L352.9,84.3 L353.9,85.0 L355.0,85.8 L356.0,86.6 L357.0,87.3 L358.0,88.0 L359.0,88.6 L360.0,89.1 L361.0,89.5 L362.1,90.0 L363.1,90.5 L364.0,91.0 L365.0,91.5 L365.9,92.0 L366.9,92.5 L367.9,93.0 L368.9,93.6 L369.9,94.2 L370.9,94.7 L371.9,95.0 L372.9,95.3 L373.9,95.5 L375.0,95.6 L376.0,95.8 L377.0,96.0 L378.0,96.3 L379.1,96.6 L380.1,96.9 L381.1,97.2 L382.1,97.5 L383.1,97.7 L384.0,97.9 L384.9,98.2 L385.9,98.4 L386.8,98.7 L387.8,98.9 L388.7,99.1 L389.6,99.4 L390.6,99.6 L391.5,99.8 L392.4,100.0 L393.4,100.2 L394.3,100.4 L395.3,100.6 L396.2,100.8 L397.1,101.0 L398.1,101.2 L399.0,101.4 L399.9,101.6 L400.8,101.7 L401.7,101.9 L402.7,102.1 L403.6,102.2 L404.5,102.4 L405.4,102.6 L406.4,102.7 L407.3,102.9 L408.2,103.0 L409.1,103.2 L410.0,103.3 L411.0,103.5 L411.9,103.6 L412.8,103.8 L413.7,103.9 L414.7,104.0 L415.6,104.1 L416.5,104.3 L417.4,104.4 L418.3,104.5 L419.3,104.6 L420.2,104.7 L421.1,104.8 L422.0,104.9 L422.9,105.0 L423.9,105.0 L424.8,105.1 L425.7,105.2 L426.6,105.3 L427.5,105.4 L428.4,105.5 L429.3,105.5 L430.3,105.6 L431.2,105.7 L432.1,105.8 L433.0,105.9 L433.9,105.9 L434.8,106.0 L435.7,106.1 L436.7,106.1 L437.6,106.2 L438.5,106.3 L439.4,106.3 L440.3,106.4 L441.2,106.5 L442.1,106.5 L443.1,106.6 L444.0,106.7 L444.9,106.7 L445.8,106.8 L446.7,106.8 L447.6,106.9 L448.6,107.0 L449.5,107.0 L450.4,107.1 L451.3,107.1 L452.2,107.2 L453.1,107.2 L454.0,107.3 L455.0,107.3 L455.9,107.4 L456.8,107.4 L457.7,107.5 L458.6,107.5 L459.5,107.6 L460.4,107.6 L461.4,107.6 L462.3,107.7 L463.2,107.7 L464.1,107.8 L465.0,107.8 L465.9,107.8 L466.9,107.9 L467.8,107.9 L468.7,108.0 L469.6,108.0 L470.5,108.0 L471.4,108.1 L472.3,108.1 L473.3,108.1 L474.2,108.2 L475.1,108.2 L476.0,108.2 L476.9,108.3 L477.8,108.3 L478.8,108.3 L479.7,108.3 L480.6,108.4 L481.5,108.4 L482.4,108.4 L483.3,108.5 L484.2,108.5 L485.2,108.5 L486.1,108.5 L487.0,108.6 L487.9,108.6 L488.8,108.6 L489.7,108.6 L490.6,108.7 L491.6,108.7 L492.5,108.7 L493.4,108.7 L494.3,108.8 L495.2,108.8 L496.1,108.8 L497.0,108.8 L498.0,108.9 L498.9,108.9 L499.8,108.9 L500.7,108.9 L501.6,109.0 L502.5,109.0 L503.5,109.0 L504.4,109.1 L505.3,109.1 L506.2,109.1" fill="none" stroke="#cf3556" stroke-width="1.25" stroke-dasharray="3.2 2.1"/>
<path d="M323.2,26.6 L323.7,28.2 L324.3,29.7 L324.8,31.2 L326.0,34.3 L327.2,37.1 L328.3,39.6 L329.4,41.6 L330.4,43.3 L331.5,45.0 L332.5,46.8 L333.1,48.0 L333.6,49.1 L334.2,50.2 L335.0,51.7 L335.9,53.2 L336.7,54.6 L337.6,56.0 L338.4,57.5 L339.3,58.8 L340.4,60.2 L341.5,61.5 L342.6,62.8 L343.6,64.0 L344.7,65.3 L345.7,66.6 L346.7,67.9 L347.8,69.1 L348.8,70.2 L349.8,71.2 L350.8,72.2 L351.8,73.2 L352.8,74.1 L353.8,75.0 L354.7,75.9 L355.7,76.8 L356.7,77.5 L357.7,78.2 L358.7,78.8 L359.6,79.4 L360.6,79.9 L361.5,80.4 L362.4,80.8 L363.4,81.3 L364.3,81.7 L365.2,82.1 L366.1,82.4 L367.1,82.7 L368.0,83.0 L368.9,83.2 L369.8,83.4 L370.8,83.6 L371.7,83.8 L372.6,84.0 L373.5,84.1 L374.4,84.3 L375.3,84.4 L376.3,84.6 L377.2,84.8 L378.1,85.0 L379.1,85.3 L380.1,85.6 L381.1,86.0 L382.1,86.3 L383.0,86.7 L384.0,87.1 L385.0,87.5 L386.0,87.8 L387.0,88.2 L388.0,88.5 L389.0,88.8 L390.0,89.0 L390.9,89.3 L391.9,89.6 L392.9,89.8 L393.9,90.1 L394.9,90.3 L395.9,90.5 L396.9,90.8 L397.9,91.0 L398.8,91.2 L399.7,91.4 L400.7,91.6 L401.6,91.8 L402.5,92.0 L403.4,92.2 L404.4,92.4 L405.3,92.6 L406.2,92.8 L407.2,93.0 L408.1,93.1 L409.0,93.3 L409.9,93.5 L410.9,93.7 L412.0,93.9 L413.0,94.1 L414.0,94.3 L415.0,94.5 L416.0,94.6 L417.0,94.8 L418.0,95.0 L419.0,95.1 L420.0,95.2 L420.9,95.3 L421.8,95.4 L422.8,95.6 L423.7,95.7 L424.6,95.8 L425.5,95.9 L426.4,96.0 L427.4,96.0 L428.3,96.1 L429.2,96.2 L430.1,96.3 L431.0,96.4 L432.0,96.5 L432.9,96.6 L433.8,96.7 L434.7,96.8 L435.6,96.8 L436.5,96.9 L437.5,97.0 L438.4,97.1 L439.3,97.2 L440.2,97.2 L441.1,97.3 L442.1,97.4 L443.0,97.5 L443.9,97.5 L444.8,97.6 L445.7,97.7 L446.7,97.7 L447.6,97.8 L448.5,97.8 L449.4,97.9 L450.3,98.0 L451.2,98.0 L452.2,98.1 L453.1,98.1 L454.0,98.2 L454.9,98.2 L455.8,98.3 L456.8,98.4 L457.7,98.4 L458.6,98.4 L459.5,98.5 L460.4,98.5 L461.4,98.6 L462.3,98.6 L463.2,98.7 L464.1,98.7 L465.0,98.7 L465.9,98.8 L466.9,98.8 L467.8,98.9 L468.7,98.9 L469.6,98.9 L470.5,99.0 L471.4,99.0 L472.3,99.0 L473.3,99.1 L474.2,99.1 L475.1,99.1 L476.0,99.1 L476.9,99.2 L477.8,99.2 L478.8,99.2 L479.7,99.3 L480.6,99.3 L481.5,99.3 L482.4,99.3 L483.3,99.4 L484.2,99.4 L485.2,99.4 L486.1,99.4 L487.0,99.5 L487.9,99.5 L488.8,99.5 L489.7,99.5 L490.6,99.5 L491.6,99.6 L492.5,99.6 L493.4,99.6 L494.3,99.6 L495.2,99.7 L496.1,99.7 L497.0,99.7 L498.0,99.7 L498.9,99.8 L499.8,99.8 L500.7,99.8 L501.6,99.8 L502.5,99.9 L503.5,99.9 L504.4,99.9 L505.3,99.9 L506.2,100.0" fill="none" stroke="#4dbb5c" stroke-width="1.25" stroke-dasharray="3.2 2.1"/>
<path d="M323.2,26.6 L324.2,29.7 L325.2,32.8 L326.1,35.3 L327.2,37.3 L328.3,38.9 L329.4,40.4 L330.5,42.0 L331.7,44.2 L333.0,46.6 L334.2,48.8 L335.0,50.1 L335.9,51.4 L336.7,52.5 L337.8,53.7 L338.9,54.7 L340.0,55.8 L341.0,57.1 L342.0,58.6 L343.0,60.0 L343.9,61.2 L344.9,62.4 L345.9,63.5 L346.9,64.6 L348.0,65.6 L349.0,66.6 L350.0,67.4 L351.1,68.1 L352.1,68.5 L353.1,68.8 L354.1,68.9 L355.0,69.0 L356.0,69.2 L357.0,69.3 L358.0,69.5 L359.0,69.8 L360.0,70.2 L361.0,70.7 L361.9,71.2 L362.9,71.8 L363.9,72.4 L364.9,73.0 L365.9,73.6 L367.0,74.3 L368.0,75.0 L369.0,75.6 L370.0,76.2 L371.0,76.8 L372.0,77.4 L373.0,78.0 L374.0,78.6 L375.0,79.2 L375.9,79.8 L376.9,80.4 L377.9,81.1 L378.9,81.7 L379.9,82.3 L380.9,82.9 L381.9,83.4 L382.9,84.0 L383.9,84.5 L384.9,85.0 L385.9,85.5 L387.0,86.0 L388.0,86.5 L389.0,87.0 L390.0,87.6 L391.1,88.2 L392.1,88.7 L393.1,89.0 L394.1,89.1 L395.0,89.2 L396.0,89.3 L396.9,89.4 L397.9,89.5 L398.8,89.5 L399.7,89.6 L400.7,89.7 L401.6,89.8 L402.5,89.9 L403.5,90.0 L404.4,90.1 L405.3,90.2 L406.2,90.3 L407.2,90.4 L408.1,90.5 L409.0,90.6 L409.9,90.8 L410.9,90.9 L411.8,91.1 L412.7,91.2 L413.6,91.4 L414.5,91.5 L415.4,91.7 L416.3,91.9 L417.3,92.0 L418.2,92.1 L419.1,92.2 L420.0,92.3 L420.9,92.4 L421.8,92.5 L422.8,92.6 L423.7,92.7 L424.6,92.8 L425.5,92.8 L426.4,92.9 L427.4,93.0 L428.3,93.0 L429.2,93.1 L430.1,93.2 L431.0,93.2 L432.0,93.3 L432.9,93.4 L433.8,93.4 L434.7,93.5 L435.6,93.5 L436.5,93.6 L437.5,93.6 L438.4,93.7 L439.3,93.7 L440.2,93.8 L441.1,93.8 L442.1,93.9 L443.0,93.9 L443.9,94.0 L444.8,94.0 L445.7,94.1 L446.7,94.1 L447.6,94.2 L448.5,94.2 L449.4,94.3 L450.3,94.3 L451.2,94.4 L452.2,94.4 L453.1,94.5 L454.0,94.5 L454.9,94.6 L455.8,94.6 L456.8,94.7 L457.7,94.7 L458.6,94.8 L459.5,94.8 L460.4,94.9 L461.4,94.9 L462.3,95.0 L463.2,95.1 L464.1,95.1 L465.0,95.2 L465.9,95.3 L466.9,95.3 L467.8,95.4 L468.7,95.5 L469.6,95.6 L470.5,95.6 L471.4,95.7 L472.3,95.8 L473.3,95.8 L474.2,95.9 L475.1,96.0 L476.0,96.1 L476.9,96.2 L477.8,96.2 L478.8,96.3 L479.7,96.4 L480.6,96.5 L481.5,96.5 L482.4,96.6 L483.3,96.7 L484.2,96.8 L485.2,96.9 L486.1,96.9 L487.0,97.0 L487.9,97.1 L488.8,97.2 L489.7,97.3 L490.6,97.3 L491.6,97.4 L492.5,97.5 L493.4,97.6 L494.3,97.7 L495.2,97.8 L496.1,97.8 L497.0,97.9 L498.0,98.0 L498.9,98.1 L499.8,98.2 L500.7,98.2 L501.6,98.3 L502.5,98.4 L503.5,98.5 L504.4,98.6 L505.3,98.6 L506.2,98.7" fill="none" stroke="#2d6597" stroke-width="1.25" stroke-dasharray="5.8 2.1 1 2.1"/>
<path d="M323.2,26.6 L324.1,28.3 L325.0,30.0 L325.9,31.7 L326.9,33.3 L327.9,35.1 L328.9,36.9 L330.0,38.7 L331.0,40.3 L332.0,41.8 L333.1,43.1 L334.0,44.0 L335.0,44.8 L335.9,45.5 L336.9,46.3 L337.8,47.1 L338.8,48.3 L339.9,49.5 L340.9,50.8 L341.9,52.0 L342.9,53.0 L343.9,54.0 L344.9,54.9 L345.9,55.9 L346.9,56.7 L347.9,57.5 L348.9,58.3 L349.9,59.0 L350.9,59.6 L351.9,60.1 L352.9,60.7 L353.9,61.1 L354.9,61.6 L355.8,62.0 L356.8,62.5 L357.8,62.9 L358.8,63.5 L359.8,64.0 L360.7,64.6 L361.7,65.2 L362.6,65.9 L363.5,66.6 L364.5,67.3 L365.4,68.0 L366.3,68.7 L367.3,69.4 L368.2,70.0 L369.1,70.6 L370.0,71.0 L371.0,71.5 L372.0,71.9 L373.0,72.3 L374.0,72.6 L375.0,73.0 L376.0,73.3 L377.0,73.6 L378.0,73.9 L378.9,74.2 L379.9,74.5 L380.8,74.8 L381.8,75.1 L382.7,75.3 L383.6,75.6 L384.5,75.8 L385.4,76.1 L386.3,76.3 L387.2,76.5 L388.2,76.8 L389.1,77.0 L390.0,77.3 L390.9,77.5 L391.9,77.8 L392.9,78.0 L393.9,78.3 L394.9,78.6 L395.9,78.8 L396.8,79.1 L397.8,79.3 L398.8,79.6 L399.8,79.8 L400.8,80.0 L401.7,80.2 L402.7,80.4 L403.6,80.6 L404.5,80.7 L405.4,80.9 L406.4,81.1 L407.3,81.2 L408.2,81.4 L409.2,81.5 L410.1,81.6 L411.0,81.8 L411.9,81.9 L412.9,82.0 L413.9,82.2 L414.9,82.3 L415.9,82.4 L416.9,82.5 L418.0,82.6 L419.0,82.7 L420.0,82.8 L420.9,82.9 L421.8,83.0 L422.8,83.2 L423.7,83.3 L424.6,83.4 L425.5,83.6 L426.4,83.7 L427.4,83.9 L428.3,84.0 L429.2,84.2 L430.1,84.4 L431.0,84.5 L432.0,84.7 L432.9,84.9 L433.8,85.0 L434.7,85.2 L435.6,85.4 L436.5,85.5 L437.5,85.7 L438.4,85.9 L439.3,86.1 L440.2,86.3 L441.1,86.4 L442.1,86.6 L443.0,86.8 L443.9,87.0 L444.8,87.1 L445.7,87.3 L446.7,87.5 L447.6,87.6 L448.5,87.8 L449.4,87.9 L450.3,88.1 L451.2,88.2 L452.2,88.4 L453.1,88.5 L454.0,88.7 L454.9,88.8 L455.8,88.9 L456.8,89.0 L457.7,89.1 L458.6,89.3 L459.5,89.4 L460.4,89.4 L461.4,89.5 L462.3,89.6 L463.2,89.7 L464.1,89.7 L465.0,89.8 L465.9,89.9 L466.9,89.9 L467.8,90.0 L468.7,90.0 L469.6,90.1 L470.5,90.1 L471.4,90.1 L472.3,90.2 L473.3,90.2 L474.2,90.3 L475.1,90.3 L476.0,90.3 L476.9,90.4 L477.8,90.4 L478.8,90.5 L479.7,90.5 L480.6,90.5 L481.5,90.6 L482.4,90.6 L483.3,90.6 L484.2,90.7 L485.2,90.7 L486.1,90.7 L487.0,90.7 L487.9,90.8 L488.8,90.8 L489.7,90.8 L490.6,90.9 L491.6,90.9 L492.5,90.9 L493.4,90.9 L494.3,91.0 L495.2,91.0 L496.1,91.0 L497.0,91.1 L498.0,91.1 L498.9,91.1 L499.8,91.2 L500.7,91.2 L501.6,91.2 L502.5,91.2 L503.5,91.3 L504.4,91.3 L505.3,91.3 L506.2,91.4" fill="none" stroke="#cf3556" stroke-width="1.25" stroke-dasharray="5.8 2.1 1 2.1"/>
<path d="M323.2,26.6 L324.2,27.5 L325.2,28.4 L326.2,29.4 L327.2,30.3 L328.2,31.2 L329.2,32.1 L330.2,33.1 L331.1,34.0 L332.1,34.9 L333.1,35.9 L334.1,36.8 L335.1,37.8 L336.1,38.7 L337.1,39.6 L338.1,40.5 L339.0,41.4 L340.0,42.2 L341.0,43.0 L341.9,43.8 L342.9,44.5 L343.8,45.2 L344.8,45.9 L345.7,46.5 L346.6,47.1 L347.6,47.6 L348.5,48.1 L349.4,48.7 L350.4,49.2 L351.3,49.7 L352.2,50.1 L353.1,50.6 L354.1,51.1 L355.0,51.6 L355.9,52.1 L356.8,52.6 L357.8,53.1 L358.7,53.6 L359.6,54.1 L360.6,54.7 L361.5,55.3 L362.4,55.8 L363.4,56.4 L364.3,57.0 L365.2,57.5 L366.1,58.1 L367.1,58.5 L368.0,59.0 L368.9,59.4 L369.8,59.8 L370.8,60.1 L371.7,60.5 L372.6,60.8 L373.5,61.1 L374.4,61.4 L375.4,61.8 L376.3,62.1 L377.2,62.4 L378.1,62.7 L379.0,63.1 L379.9,63.4 L380.8,63.7 L381.8,64.0 L382.7,64.3 L383.6,64.6 L384.5,64.9 L385.4,65.2 L386.4,65.4 L387.4,65.7 L388.4,66.0 L389.4,66.2 L390.4,66.4 L391.3,66.7 L392.3,66.9 L393.3,67.1 L394.3,67.4 L395.3,67.6 L396.2,67.8 L397.2,68.0 L398.1,68.2 L399.0,68.3 L400.0,68.5 L400.9,68.7 L401.8,68.9 L402.8,69.0 L403.7,69.2 L404.7,69.4 L405.7,69.5 L406.6,69.7 L407.6,69.8 L408.6,70.0 L409.6,70.1 L410.6,70.3 L411.5,70.4 L412.5,70.6 L413.5,70.7 L414.5,70.9 L415.4,71.0 L416.4,71.1 L417.4,71.3 L418.4,71.4 L419.3,71.6 L420.2,71.7 L421.1,71.8 L422.0,72.0 L422.9,72.1 L423.9,72.3 L424.8,72.4 L425.7,72.5 L426.6,72.7 L427.5,72.8 L428.4,73.0 L429.3,73.1 L430.3,73.3 L431.2,73.4 L432.1,73.6 L433.0,73.7 L433.9,73.8 L434.8,74.0 L435.7,74.1 L436.7,74.3 L437.6,74.4 L438.5,74.6 L439.4,74.7 L440.3,74.9 L441.2,75.0 L442.1,75.1 L443.1,75.3 L444.0,75.4 L444.9,75.5 L445.8,75.7 L446.7,75.8 L447.6,75.9 L448.6,76.1 L449.5,76.2 L450.4,76.3 L451.3,76.4 L452.2,76.5 L453.1,76.7 L454.0,76.8 L455.0,76.9 L455.9,77.0 L456.8,77.1 L457.7,77.2 L458.6,77.3 L459.5,77.4 L460.4,77.5 L461.4,77.6 L462.3,77.6 L463.2,77.7 L464.1,77.8 L465.0,77.9 L465.9,77.9 L466.9,78.0 L467.8,78.1 L468.7,78.1 L469.6,78.2 L470.5,78.2 L471.4,78.3 L472.3,78.4 L473.3,78.4 L474.2,78.5 L475.1,78.5 L476.0,78.6 L476.9,78.6 L477.8,78.7 L478.8,78.7 L479.7,78.8 L480.6,78.8 L481.5,78.9 L482.4,78.9 L483.3,79.0 L484.2,79.0 L485.2,79.1 L486.1,79.1 L487.0,79.2 L487.9,79.2 L488.8,79.2 L489.7,79.3 L490.6,79.3 L491.6,79.4 L492.5,79.4 L493.4,79.5 L494.3,79.5 L495.2,79.5 L496.1,79.6 L497.0,79.6 L498.0,79.7 L498.9,79.7 L499.8,79.8 L500.7,79.8 L501.6,79.9 L502.5,79.9 L503.5,80.0 L504.4,80.0 L505.3,80.1 L506.2,80.1" fill="none" stroke="#4dbb5c" stroke-width="1.25" stroke-dasharray="5.8 2.1 1 2.1"/>
<path d="M323.2,26.6 L324.2,27.5 L325.2,28.4 L326.2,29.3 L327.2,30.2 L328.2,31.2 L329.2,32.1 L330.2,33.1 L331.1,34.0 L332.1,35.1 L333.0,36.1 L334.0,37.2 L334.9,38.1 L335.9,38.9 L337.0,39.7 L338.0,40.5 L339.0,41.2 L340.0,42.0 L341.0,42.8 L341.9,43.6 L342.9,44.5 L343.8,45.2 L344.8,45.9 L345.9,46.5 L346.9,47.1 L348.0,47.6 L349.0,48.1 L350.1,48.6 L351.1,49.1 L352.1,49.6 L353.1,50.0 L354.1,50.5 L355.0,51.0 L356.0,51.4 L356.9,51.9 L357.9,52.3 L358.8,52.7 L359.8,53.1 L360.8,53.6 L361.8,54.0 L362.9,54.5 L363.9,54.9 L364.9,55.3 L365.9,55.8 L367.0,56.1 L368.0,56.5 L369.0,56.8 L370.0,57.0 L371.0,57.3 L372.0,57.5 L373.0,57.8 L374.0,58.0 L375.0,58.2 L376.0,58.5 L377.0,58.7 L378.0,59.0 L379.0,59.3 L380.0,59.7 L381.0,60.1 L382.0,60.5 L383.0,60.9 L384.0,61.4 L385.0,61.8 L386.0,62.3 L387.0,62.7 L388.0,63.0 L389.0,63.4 L389.9,63.8 L390.9,64.0 L391.9,64.1 L392.9,64.2 L393.9,64.3 L394.9,64.3 L395.9,64.4 L396.9,64.4 L397.9,64.5 L398.9,64.6 L399.9,64.6 L400.9,64.7 L402.0,64.8 L403.0,65.0 L404.0,65.2 L405.0,65.5 L406.1,65.9 L407.1,66.3 L408.1,66.5 L409.0,66.7 L409.9,66.8 L410.9,66.9 L411.8,67.0 L412.7,67.1 L413.6,67.2 L414.5,67.3 L415.4,67.4 L416.3,67.5 L417.3,67.6 L418.2,67.7 L419.1,67.8 L420.0,67.9 L420.9,68.0 L421.9,68.1 L422.8,68.2 L423.7,68.4 L424.7,68.5 L425.6,68.6 L426.6,68.8 L427.5,68.9 L428.4,69.1 L429.4,69.2 L430.3,69.4 L431.2,69.5 L432.2,69.7 L433.1,69.8 L434.0,70.0 L435.0,70.1 L435.9,70.3 L436.8,70.4 L437.8,70.6 L438.7,70.7 L439.6,70.9 L440.6,71.0 L441.5,71.2 L442.4,71.3 L443.4,71.5 L444.3,71.6 L445.2,71.8 L446.2,71.9 L447.1,72.0 L448.1,72.1 L449.0,72.3 L449.9,72.4 L450.9,72.5 L451.8,72.6 L452.7,72.7 L453.7,72.8 L454.6,72.9 L455.5,73.0 L456.4,73.0 L457.4,73.1 L458.3,73.2 L459.2,73.3 L460.1,73.3 L461.0,73.4 L462.0,73.5 L462.9,73.6 L463.8,73.6 L464.7,73.7 L465.7,73.8 L466.6,73.8 L467.5,73.9 L468.4,74.0 L469.3,74.0 L470.3,74.1 L471.2,74.1 L472.1,74.2 L473.0,74.2 L473.9,74.3 L474.9,74.4 L475.8,74.4 L476.7,74.5 L477.6,74.5 L478.6,74.6 L479.5,74.6 L480.4,74.7 L481.3,74.7 L482.2,74.8 L483.2,74.8 L484.1,74.9 L485.0,74.9 L485.9,75.0 L486.8,75.0 L487.8,75.1 L488.7,75.1 L489.6,75.2 L490.5,75.2 L491.5,75.3 L492.4,75.3 L493.3,75.4 L494.2,75.4 L495.1,75.5 L496.1,75.5 L497.0,75.6 L497.9,75.7 L498.8,75.7 L499.7,75.8 L500.7,75.8 L501.6,75.9 L502.5,75.9 L503.4,76.0 L504.4,76.0 L505.3,76.1 L506.2,76.1" fill="none" stroke="#2d6597" stroke-width="1.25"/>
<path d="M323.2,26.6 L324.2,27.4 L325.2,28.2 L326.2,28.9 L327.2,29.7 L328.2,30.5 L329.2,31.3 L330.2,32.0 L331.1,32.7 L332.1,33.5 L333.1,34.2 L334.1,34.9 L335.1,35.6 L336.1,36.3 L337.1,37.0 L338.1,37.7 L339.0,38.4 L340.0,39.0 L341.0,39.7 L342.0,40.4 L343.1,41.0 L344.1,41.7 L345.1,42.4 L346.1,43.0 L347.1,43.6 L348.1,44.1 L349.1,44.7 L350.1,45.1 L351.1,45.5 L352.0,45.9 L353.0,46.2 L354.0,46.6 L355.0,46.9 L355.9,47.2 L356.9,47.5 L357.9,47.8 L358.8,48.0 L359.8,48.3 L360.8,48.5 L361.8,48.8 L362.9,49.0 L363.9,49.2 L364.9,49.4 L365.9,49.6 L367.0,49.8 L368.0,50.0 L368.9,50.2 L369.8,50.4 L370.8,50.6 L371.7,50.8 L372.6,50.9 L373.5,51.1 L374.4,51.3 L375.3,51.5 L376.3,51.6 L377.2,51.8 L378.1,52.0 L379.1,52.1 L380.1,52.3 L381.1,52.4 L382.1,52.6 L383.0,52.7 L384.0,52.9 L385.0,53.0 L386.0,53.2 L387.0,53.3 L388.0,53.5 L388.9,53.7 L389.9,53.9 L390.8,54.1 L391.7,54.3 L392.7,54.5 L393.6,54.8 L394.5,55.0 L395.5,55.3 L396.4,55.5 L397.4,55.8 L398.3,56.0 L399.2,56.2 L400.2,56.4 L401.1,56.6 L402.1,56.8 L403.0,57.0 L403.9,57.1 L404.9,57.3 L405.8,57.4 L406.8,57.5 L407.7,57.6 L408.7,57.8 L409.6,57.9 L410.6,58.0 L411.5,58.1 L412.4,58.2 L413.4,58.3 L414.3,58.4 L415.3,58.5 L416.2,58.6 L417.2,58.7 L418.1,58.8 L419.1,58.9 L420.0,59.0 L420.9,59.1 L421.8,59.2 L422.8,59.3 L423.7,59.4 L424.6,59.5 L425.5,59.6 L426.4,59.7 L427.4,59.8 L428.3,59.9 L429.2,60.0 L430.1,60.1 L431.0,60.2 L432.0,60.3 L432.9,60.4 L433.8,60.5 L434.7,60.6 L435.6,60.7 L436.5,60.8 L437.5,60.9 L438.4,61.0 L439.3,61.1 L440.2,61.2 L441.1,61.3 L442.1,61.4 L443.0,61.5 L443.9,61.5 L444.8,61.6 L445.7,61.7 L446.7,61.8 L447.6,61.9 L448.5,62.0 L449.4,62.1 L450.3,62.2 L451.2,62.3 L452.2,62.4 L453.1,62.4 L454.0,62.5 L454.9,62.6 L455.8,62.7 L456.8,62.8 L457.7,62.9 L458.6,62.9 L459.5,63.0 L460.4,63.1 L461.4,63.2 L462.3,63.3 L463.2,63.3 L464.1,63.4 L465.0,63.5 L465.9,63.6 L466.9,63.6 L467.8,63.7 L468.7,63.8 L469.6,63.9 L470.5,63.9 L471.4,64.0 L472.3,64.1 L473.3,64.1 L474.2,64.2 L475.1,64.3 L476.0,64.3 L476.9,64.4 L477.8,64.5 L478.8,64.5 L479.7,64.6 L480.6,64.7 L481.5,64.7 L482.4,64.8 L483.3,64.9 L484.2,64.9 L485.2,65.0 L486.1,65.0 L487.0,65.1 L487.9,65.2 L488.8,65.2 L489.7,65.3 L490.6,65.4 L491.6,65.4 L492.5,65.5 L493.4,65.5 L494.3,65.6 L495.2,65.7 L496.1,65.7 L497.0,65.8 L498.0,65.8 L498.9,65.9 L499.8,66.0 L500.7,66.0 L501.6,66.1 L502.5,66.2 L503.5,66.2 L504.4,66.3 L505.3,66.3 L506.2,66.4" fill="none" stroke="#cf3556" stroke-width="1.25"/>
<path d="M323.2,26.6 L324.2,27.1 L325.2,27.6 L326.2,28.1 L327.2,28.6 L328.2,29.1 L329.2,29.5 L330.2,30.0 L331.1,30.4 L332.1,30.8 L333.1,31.1 L334.1,31.5 L335.1,31.8 L336.1,32.2 L337.1,32.5 L338.1,32.9 L339.0,33.2 L340.0,33.5 L341.0,33.9 L342.0,34.2 L343.1,34.6 L344.1,34.9 L345.1,35.3 L346.1,35.6 L347.1,36.0 L348.1,36.3 L349.1,36.7 L350.1,37.0 L351.1,37.4 L352.0,37.7 L353.0,38.1 L354.0,38.4 L355.0,38.8 L355.9,39.1 L356.9,39.4 L357.9,39.8 L358.8,40.1 L359.8,40.4 L360.8,40.7 L361.8,41.0 L362.9,41.2 L363.9,41.5 L364.9,41.8 L365.9,42.0 L367.0,42.3 L368.0,42.5 L368.9,42.7 L369.9,42.9 L370.9,43.2 L371.8,43.4 L372.8,43.6 L373.7,43.8 L374.7,44.0 L375.6,44.2 L376.6,44.4 L377.5,44.6 L378.5,44.8 L379.4,45.0 L380.4,45.1 L381.3,45.3 L382.3,45.5 L383.2,45.7 L384.2,45.8 L385.1,46.0 L386.1,46.2 L387.0,46.3 L388.0,46.5 L388.9,46.6 L389.8,46.7 L390.7,46.9 L391.6,47.0 L392.6,47.1 L393.5,47.3 L394.4,47.4 L395.3,47.5 L396.2,47.6 L397.1,47.7 L398.0,47.9 L399.0,48.0 L399.9,48.1 L400.8,48.2 L401.7,48.3 L402.6,48.4 L403.5,48.5 L404.5,48.7 L405.4,48.8 L406.3,48.9 L407.2,49.0 L408.1,49.1 L409.0,49.2 L409.9,49.3 L410.9,49.4 L411.8,49.4 L412.7,49.5 L413.6,49.6 L414.5,49.7 L415.4,49.8 L416.3,49.9 L417.3,50.0 L418.2,50.1 L419.1,50.1 L420.0,50.2 L420.9,50.3 L421.8,50.4 L422.8,50.4 L423.7,50.5 L424.6,50.6 L425.5,50.7 L426.4,50.7 L427.4,50.8 L428.3,50.9 L429.2,50.9 L430.1,51.0 L431.0,51.1 L432.0,51.1 L432.9,51.2 L433.8,51.3 L434.7,51.3 L435.6,51.4 L436.5,51.5 L437.5,51.5 L438.4,51.6 L439.3,51.6 L440.2,51.7 L441.1,51.8 L442.1,51.8 L443.0,51.9 L443.9,51.9 L444.8,52.0 L445.7,52.0 L446.7,52.1 L447.6,52.1 L448.5,52.2 L449.4,52.3 L450.3,52.3 L451.2,52.4 L452.2,52.4 L453.1,52.5 L454.0,52.5 L454.9,52.6 L455.8,52.6 L456.8,52.7 L457.7,52.7 L458.6,52.8 L459.5,52.8 L460.4,52.9 L461.4,52.9 L462.3,53.0 L463.2,53.1 L464.1,53.1 L465.0,53.2 L465.9,53.2 L466.9,53.3 L467.8,53.3 L468.7,53.4 L469.6,53.4 L470.5,53.5 L471.4,53.5 L472.3,53.6 L473.3,53.6 L474.2,53.7 L475.1,53.7 L476.0,53.8 L476.9,53.8 L477.8,53.9 L478.8,53.9 L479.7,54.0 L480.6,54.0 L481.5,54.1 L482.4,54.1 L483.3,54.2 L484.2,54.2 L485.2,54.2 L486.1,54.3 L487.0,54.3 L487.9,54.4 L488.8,54.4 L489.7,54.5 L490.6,54.5 L491.6,54.6 L492.5,54.6 L493.4,54.7 L494.3,54.7 L495.2,54.8 L496.1,54.8 L497.0,54.9 L498.0,54.9 L498.9,54.9 L499.8,55.0 L500.7,55.0 L501.6,55.1 L502.5,55.1 L503.5,55.2 L504.4,55.2 L505.3,55.3 L506.2,55.3" fill="none" stroke="#4dbb5c" stroke-width="1.25"/>
<line x1="91.50" y1="22" x2="91.50" y2="123.60" stroke="#1a1a1a" stroke-width="1.2"/>
<line x1="90.90" y1="123.00" x2="279.00" y2="123.00" stroke="#2a2a2a" stroke-width="1.7"/>
<line x1="88.50" y1="123.00" x2="91.50" y2="123.00" stroke="#1a1a1a" stroke-width="1"/>
<text x="85.00" y="125.60" text-anchor="end" class="tk">0.00</text>
<line x1="88.50" y1="98.90" x2="91.50" y2="98.90" stroke="#1a1a1a" stroke-width="1"/>
<text x="85.00" y="101.50" text-anchor="end" class="tk">0.25</text>
<line x1="88.50" y1="74.80" x2="91.50" y2="74.80" stroke="#1a1a1a" stroke-width="1"/>
<text x="85.00" y="77.40" text-anchor="end" class="tk">0.50</text>
<line x1="88.50" y1="50.70" x2="91.50" y2="50.70" stroke="#1a1a1a" stroke-width="1"/>
<text x="85.00" y="53.30" text-anchor="end" class="tk">0.75</text>
<line x1="88.50" y1="26.60" x2="91.50" y2="26.60" stroke="#1a1a1a" stroke-width="1"/>
<text x="85.00" y="29.20" text-anchor="end" class="tk">1.00</text>
<line x1="91.50" y1="123.00" x2="91.50" y2="126.00" stroke="#1a1a1a" stroke-width="1"/>
<text x="91.50" y="134.6" text-anchor="middle" class="tk">0</text>
<line x1="128.18" y1="123.00" x2="128.18" y2="126.00" stroke="#1a1a1a" stroke-width="1"/>
<text x="128.18" y="134.6" text-anchor="middle" class="tk">1</text>
<line x1="164.86" y1="123.00" x2="164.86" y2="126.00" stroke="#1a1a1a" stroke-width="1"/>
<text x="164.86" y="134.6" text-anchor="middle" class="tk">2</text>
<line x1="201.54" y1="123.00" x2="201.54" y2="126.00" stroke="#1a1a1a" stroke-width="1"/>
<text x="201.54" y="134.6" text-anchor="middle" class="tk">3</text>
<line x1="238.22" y1="123.00" x2="238.22" y2="126.00" stroke="#1a1a1a" stroke-width="1"/>
<text x="238.22" y="134.6" text-anchor="middle" class="tk">4</text>
<line x1="274.90" y1="123.00" x2="274.90" y2="126.00" stroke="#1a1a1a" stroke-width="1"/>
<text x="274.90" y="134.6" text-anchor="middle" class="tk">5</text>
<line x1="323.20" y1="22" x2="323.20" y2="123.60" stroke="#1a1a1a" stroke-width="1.2"/>
<line x1="322.60" y1="123.00" x2="510.20" y2="123.00" stroke="#2a2a2a" stroke-width="1.7"/>
<line x1="320.20" y1="123.00" x2="323.20" y2="123.00" stroke="#1a1a1a" stroke-width="1"/>
<text x="316.70" y="125.60" text-anchor="end" class="tk">0.00</text>
<line x1="320.20" y1="98.90" x2="323.20" y2="98.90" stroke="#1a1a1a" stroke-width="1"/>
<text x="316.70" y="101.50" text-anchor="end" class="tk">0.25</text>
<line x1="320.20" y1="74.80" x2="323.20" y2="74.80" stroke="#1a1a1a" stroke-width="1"/>
<text x="316.70" y="77.40" text-anchor="end" class="tk">0.50</text>
<line x1="320.20" y1="50.70" x2="323.20" y2="50.70" stroke="#1a1a1a" stroke-width="1"/>
<text x="316.70" y="53.30" text-anchor="end" class="tk">0.75</text>
<line x1="320.20" y1="26.60" x2="323.20" y2="26.60" stroke="#1a1a1a" stroke-width="1"/>
<text x="316.70" y="29.20" text-anchor="end" class="tk">1.00</text>
<line x1="323.20" y1="123.00" x2="323.20" y2="126.00" stroke="#1a1a1a" stroke-width="1"/>
<text x="323.20" y="134.6" text-anchor="middle" class="tk">0</text>
<line x1="359.80" y1="123.00" x2="359.80" y2="126.00" stroke="#1a1a1a" stroke-width="1"/>
<text x="359.80" y="134.6" text-anchor="middle" class="tk">1</text>
<line x1="396.40" y1="123.00" x2="396.40" y2="126.00" stroke="#1a1a1a" stroke-width="1"/>
<text x="396.40" y="134.6" text-anchor="middle" class="tk">2</text>
<line x1="433.00" y1="123.00" x2="433.00" y2="126.00" stroke="#1a1a1a" stroke-width="1"/>
<text x="433.00" y="134.6" text-anchor="middle" class="tk">3</text>
<line x1="469.60" y1="123.00" x2="469.60" y2="126.00" stroke="#1a1a1a" stroke-width="1"/>
<text x="469.60" y="134.6" text-anchor="middle" class="tk">4</text>
<line x1="506.20" y1="123.00" x2="506.20" y2="126.00" stroke="#1a1a1a" stroke-width="1"/>
<text x="506.20" y="134.6" text-anchor="middle" class="tk">5</text>
<text x="185.15" y="145.6" text-anchor="middle" class="xl" transform="translate(185.15 0) scale(0.685 1) translate(-185.15 0)">Year after allo-HCT</text>
<text x="417" y="145.6" text-anchor="middle" class="xl" transform="translate(417 0) scale(0.685 1) translate(-417 0)">Year after allo-HCT</text>
<text x="81.6" y="161.6" class="tb">Number at risk</text>
<text x="313.8" y="161.6" class="tb">Number at risk</text>
<text x="6.6" y="174.80" class="tb">D1, CR1</text>
<text x="101.60" y="174.80" text-anchor="end" class="tn">630</text>
<text x="332.20" y="174.80" text-anchor="end" class="tn">622</text>
<text x="137.66" y="174.80" text-anchor="end" class="tn">468</text>
<text x="368.40" y="174.80" text-anchor="end" class="tn">465</text>
<text x="173.72" y="174.80" text-anchor="end" class="tn">339</text>
<text x="404.60" y="174.80" text-anchor="end" class="tn">397</text>
<text x="209.78" y="174.80" text-anchor="end" class="tn">362</text>
<text x="440.80" y="174.80" text-anchor="end" class="tn">360</text>
<text x="245.84" y="174.80" text-anchor="end" class="tn">331</text>
<text x="477.00" y="174.80" text-anchor="end" class="tn">331</text>
<text x="281.90" y="174.80" text-anchor="end" class="tn">312</text>
<text x="513.20" y="174.80" text-anchor="end" class="tn">312</text>
<text x="6.6" y="184.06" class="tb">D1, subsequent CR</text>
<text x="101.60" y="184.06" text-anchor="end" class="tn">233</text>
<text x="332.20" y="184.06" text-anchor="end" class="tn">230</text>
<text x="137.66" y="184.06" text-anchor="end" class="tn">145</text>
<text x="368.40" y="184.06" text-anchor="end" class="tn">143</text>
<text x="173.72" y="184.06" text-anchor="end" class="tn">108</text>
<text x="404.60" y="184.06" text-anchor="end" class="tn">106</text>
<text x="209.78" y="184.06" text-anchor="end" class="tn">95</text>
<text x="440.80" y="184.06" text-anchor="end" class="tn">4</text>
<text x="245.84" y="184.06" text-anchor="end" class="tn">87</text>
<text x="477.00" y="184.06" text-anchor="end" class="tn">86</text>
<text x="281.90" y="184.06" text-anchor="end" class="tn">80</text>
<text x="513.20" y="184.06" text-anchor="end" class="tn">79</text>
<text x="6.6" y="193.32" class="tb">D1, non-CR</text>
<text x="101.60" y="193.32" text-anchor="end" class="tn">303</text>
<text x="332.20" y="193.32" text-anchor="end" class="tn">292</text>
<text x="137.66" y="193.32" text-anchor="end" class="tn">100</text>
<text x="368.40" y="193.32" text-anchor="end" class="tn">99</text>
<text x="173.72" y="193.32" text-anchor="end" class="tn">58</text>
<text x="404.60" y="193.32" text-anchor="end" class="tn">58</text>
<text x="209.78" y="193.32" text-anchor="end" class="tn">48</text>
<text x="440.80" y="193.32" text-anchor="end" class="tn">48</text>
<text x="245.84" y="193.32" text-anchor="end" class="tn">41</text>
<text x="477.00" y="193.32" text-anchor="end" class="tn">41</text>
<text x="281.90" y="193.32" text-anchor="end" class="tn">37</text>
<text x="513.20" y="193.32" text-anchor="end" class="tn">37</text>
<text x="6.6" y="202.58" class="tb">D2, CR1</text>
<text x="101.60" y="202.58" text-anchor="end" class="tn">1,728</text>
<text x="332.20" y="202.58" text-anchor="end" class="tn">1712</text>
<text x="137.66" y="202.58" text-anchor="end" class="tn">1282</text>
<text x="368.40" y="202.58" text-anchor="end" class="tn">1270</text>
<text x="173.72" y="202.58" text-anchor="end" class="tn">1126</text>
<text x="404.60" y="202.58" text-anchor="end" class="tn">1118</text>
<text x="209.78" y="202.58" text-anchor="end" class="tn">1014</text>
<text x="440.80" y="202.58" text-anchor="end" class="tn">1006</text>
<text x="245.84" y="202.58" text-anchor="end" class="tn">942</text>
<text x="477.00" y="202.58" text-anchor="end" class="tn">935</text>
<text x="281.90" y="202.58" text-anchor="end" class="tn">855</text>
<text x="513.20" y="202.58" text-anchor="end" class="tn">851</text>
<text x="6.6" y="211.84" class="tb">D2, subsequent CR</text>
<text x="101.60" y="211.84" text-anchor="end" class="tn">426</text>
<text x="332.20" y="211.84" text-anchor="end" class="tn">423</text>
<text x="137.66" y="211.84" text-anchor="end" class="tn">254</text>
<text x="368.40" y="211.84" text-anchor="end" class="tn">252</text>
<text x="173.72" y="211.84" text-anchor="end" class="tn">199</text>
<text x="404.60" y="211.84" text-anchor="end" class="tn">197</text>
<text x="209.78" y="211.84" text-anchor="end" class="tn">163</text>
<text x="440.80" y="211.84" text-anchor="end" class="tn">162</text>
<text x="245.84" y="211.84" text-anchor="end" class="tn">140</text>
<text x="477.00" y="211.84" text-anchor="end" class="tn">139</text>
<text x="281.90" y="211.84" text-anchor="end" class="tn">131</text>
<text x="513.20" y="211.84" text-anchor="end" class="tn">130</text>
<text x="6.6" y="221.10" class="tb">D2, non-CR</text>
<text x="101.60" y="221.10" text-anchor="end" class="tn">755</text>
<text x="332.20" y="221.10" text-anchor="end" class="tn">741</text>
<text x="137.66" y="221.10" text-anchor="end" class="tn">254</text>
<text x="368.40" y="221.10" text-anchor="end" class="tn">251</text>
<text x="173.72" y="221.10" text-anchor="end" class="tn">159</text>
<text x="404.60" y="221.10" text-anchor="end" class="tn">157</text>
<text x="209.78" y="221.10" text-anchor="end" class="tn">122</text>
<text x="440.80" y="221.10" text-anchor="end" class="tn">120</text>
<text x="245.84" y="221.10" text-anchor="end" class="tn">108</text>
<text x="477.00" y="221.10" text-anchor="end" class="tn">106</text>
<text x="281.90" y="221.10" text-anchor="end" class="tn">96</text>
<text x="513.20" y="221.10" text-anchor="end" class="tn">94</text>
<text x="6.6" y="230.36" class="tb">D3, CR1</text>
<text x="101.60" y="230.36" text-anchor="end" class="tn">2,968</text>
<text x="332.20" y="230.36" text-anchor="end" class="tn">2964</text>
<text x="137.66" y="230.36" text-anchor="end" class="tn">2218</text>
<text x="368.40" y="230.36" text-anchor="end" class="tn">2215</text>
<text x="173.72" y="230.36" text-anchor="end" class="tn">1676</text>
<text x="404.60" y="230.36" text-anchor="end" class="tn">1673</text>
<text x="209.78" y="230.36" text-anchor="end" class="tn">1331</text>
<text x="440.80" y="230.36" text-anchor="end" class="tn">1328</text>
<text x="245.84" y="230.36" text-anchor="end" class="tn">1050</text>
<text x="477.00" y="230.36" text-anchor="end" class="tn">1049</text>
<text x="281.90" y="230.36" text-anchor="end" class="tn">766</text>
<text x="513.20" y="230.36" text-anchor="end" class="tn">766</text>
<text x="6.6" y="239.62" class="tb">D3, subsequent CR</text>
<text x="101.60" y="239.62" text-anchor="end" class="tn">529</text>
<text x="332.20" y="239.62" text-anchor="end" class="tn">529</text>
<text x="137.66" y="239.62" text-anchor="end" class="tn">311</text>
<text x="368.40" y="239.62" text-anchor="end" class="tn">311</text>
<text x="173.72" y="239.62" text-anchor="end" class="tn">210</text>
<text x="404.60" y="239.62" text-anchor="end" class="tn">210</text>
<text x="209.78" y="239.62" text-anchor="end" class="tn">157</text>
<text x="440.80" y="239.62" text-anchor="end" class="tn">157</text>
<text x="245.84" y="239.62" text-anchor="end" class="tn">116</text>
<text x="477.00" y="239.62" text-anchor="end" class="tn">116</text>
<text x="281.90" y="239.62" text-anchor="end" class="tn">85</text>
<text x="513.20" y="239.62" text-anchor="end" class="tn">85</text>
<text x="6.6" y="248.88" class="tb">D3, non-CR</text>
<text x="101.60" y="248.88" text-anchor="end" class="tn">713</text>
<text x="332.20" y="248.88" text-anchor="end" class="tn">713</text>
<text x="137.66" y="248.88" text-anchor="end" class="tn">285</text>
<text x="368.40" y="248.88" text-anchor="end" class="tn">285</text>
<text x="173.72" y="248.88" text-anchor="end" class="tn">171</text>
<text x="404.60" y="248.88" text-anchor="end" class="tn">171</text>
<text x="209.78" y="248.88" text-anchor="end" class="tn">117</text>
<text x="440.80" y="248.88" text-anchor="end" class="tn">117</text>
<text x="245.84" y="248.88" text-anchor="end" class="tn">79</text>
<text x="477.00" y="248.88" text-anchor="end" class="tn">79</text>
<text x="281.90" y="248.88" text-anchor="end" class="tn">54</text>
<text x="513.20" y="248.88" text-anchor="end" class="tn">54</text>
<line x1="143.30" y1="264.65" x2="160.70" y2="264.65" stroke="#2d6597" stroke-width="1.35"/>
<text x="163.60" y="267.05" class="lg">D1/CR1</text>
<line x1="143.30" y1="276.75" x2="160.70" y2="276.75" stroke="#cf3556" stroke-width="1.35"/>
<text x="163.60" y="279.15" class="lg">D2/CR1</text>
<line x1="143.30" y1="288.85" x2="160.70" y2="288.85" stroke="#4dbb5c" stroke-width="1.35"/>
<text x="163.60" y="291.25" class="lg">D3/CR1</text>
<line x1="215.75" y1="264.65" x2="231.00" y2="264.65" stroke="#2d6597" stroke-width="1.35" stroke-dasharray="4.05 1.7 0.9 1.7" stroke-dashoffset="0"/>
<text x="236.60" y="267.05" class="lg">D1/subsequent CR</text>
<line x1="215.75" y1="276.75" x2="231.00" y2="276.75" stroke="#cf3556" stroke-width="1.35" stroke-dasharray="4.05 1.7 0.9 1.7" stroke-dashoffset="0"/>
<text x="236.60" y="279.15" class="lg">D2/subsequent CR</text>
<line x1="215.75" y1="288.85" x2="231.00" y2="288.85" stroke="#4dbb5c" stroke-width="1.35" stroke-dasharray="4.05 1.7 0.9 1.7" stroke-dashoffset="0"/>
<text x="236.60" y="291.25" class="lg">D3/subsequent CR</text>
<line x1="323.00" y1="264.65" x2="340.00" y2="264.65" stroke="#2d6597" stroke-width="1.35" stroke-dasharray="3.7 1.9" stroke-dashoffset="2.0"/>
<text x="343.00" y="267.05" class="lg">D1/nonCR</text>
<line x1="323.00" y1="276.75" x2="340.00" y2="276.75" stroke="#cf3556" stroke-width="1.35" stroke-dasharray="3.7 1.9" stroke-dashoffset="2.0"/>
<text x="343.00" y="279.15" class="lg">D2/nonCR</text>
<line x1="323.00" y1="288.85" x2="340.00" y2="288.85" stroke="#4dbb5c" stroke-width="1.35" stroke-dasharray="3.7 1.9" stroke-dashoffset="2.0"/>
<text x="343.00" y="291.25" class="lg">D3/nonCR</text>
</svg>
</body></html>
